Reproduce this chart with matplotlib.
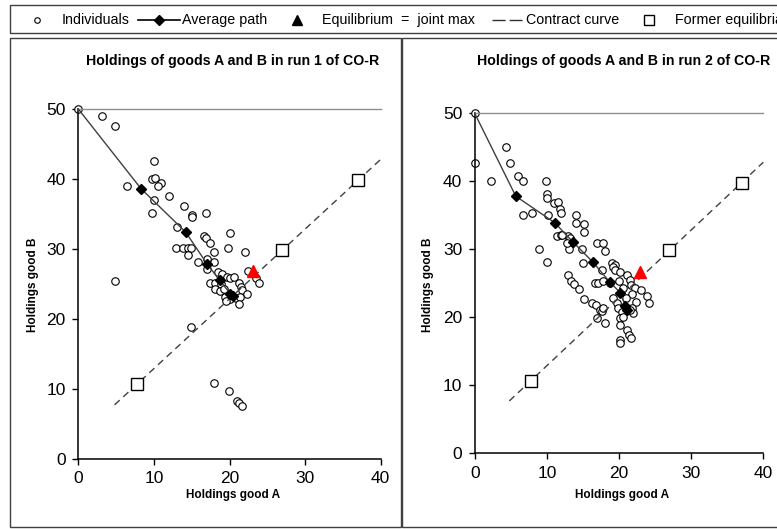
import matplotlib
matplotlib.use("Agg")
import matplotlib.pyplot as plt
from matplotlib.lines import Line2D
from matplotlib.patches import Rectangle

plt.rcParams['font.family'] = ['Liberation Sans', 'DejaVu Sans']

# ---------------- data ----------------
titles = ["Holdings of goods A and B in run 1 of CO-R",
          "Holdings of goods A and B in run 2 of CO-R"]
x_label = "Holdings good A"
y_label = "Holdings good B"
x_ticks = [0, 10, 20, 30, 40]
y_ticks = [0, 10, 20, 30, 40, 50]
legend_labels = ["Individuals", "Average path", "Equilibrium  =  joint max",
                 "Contract curve", "Former equilibria"]

run1_ind_a = [0, 3.2, 4.9, 10.0, 9.7, 10.1, 11.0, 10.5, 6.4, 10.0, 12.0, 9.7, 14.0, 15.0, 15.0,
              16.9, 13.0, 16.6, 16.9, 17.4, 20.0, 12.9, 13.9, 14.5, 14.9, 14.5, 18.0, 19.8, 22.0,
              15.8, 17.9, 17.0, 17.0, 4.9, 22.5, 18.5, 19.0, 19.7, 20.1, 20.6, 23.5, 23.9, 17.4,
              18.1, 18.9, 21.2, 21.5, 21.7, 22.3, 18.1, 18.7, 19.3, 19.4, 20.1, 20.8, 21.4, 21.3,
              19.6, 14.9, 18.0, 19.9, 21.0, 21.2, 21.7]
run1_ind_b = [50, 49.0, 47.5, 42.6, 40.0, 40.1, 39.4, 39.0, 39.0, 37.0, 37.6, 35.1, 36.1, 34.9, 34.5,
              35.1, 33.1, 31.9, 31.5, 30.9, 32.3, 30.1, 30.1, 30.1, 30.1, 29.1, 29.6, 30.1, 29.6,
              28.1, 28.1, 28.6, 27.1, 25.4, 26.8, 26.7, 26.4, 26.0, 25.8, 26.0, 25.9, 25.1, 25.1,
              25.1, 25.0, 25.1, 24.6, 24.1, 23.6, 24.2, 24.0, 24.2, 23.1, 22.9, 23.0, 23.1, 22.1,
              22.5, 18.8, 10.8, 9.7, 8.3, 7.9, 7.6]
run1_avg_a = [0, 8.3, 14.2, 17.0, 18.7, 20.1, 20.5]
run1_avg_b = [50, 38.6, 32.4, 27.9, 25.5, 23.6, 23.2]

run2_ind_a = [0, 0, 4.4, 4.9, 6.0, 6.7, 2.2, 6.7, 8.0, 9.9, 10.0, 10.0, 10.2, 11.0, 11.5, 11.8, 12.0,
              11.4, 11.9, 13.0, 13.2, 14.1, 14.1, 15.1, 15.1, 8.9, 10.0, 13.1, 14.9, 15.0, 16.9,
              17.8, 18.1, 17.6, 19.0, 19.5, 19.2, 19.5, 20.2, 21.1, 21.5, 21.7, 12.9, 13.3, 13.7,
              14.4, 15.1, 16.2, 16.8, 17.3, 17.6, 17.8, 16.9, 18.1, 16.7, 17.1, 17.8, 18.7, 19.2,
              19.7, 19.9, 20.4, 22.2, 21.8, 22.4, 21.8, 22.0, 21.5, 23.1, 23.9, 24.1, 20.2, 20.6,
              20.1, 21.1, 21.4, 21.6, 20.2, 20.1, 20.5, 21.0, 20.0, 12.8, 12.1]
run2_ind_b = [50, 42.7, 45.0, 42.7, 40.8, 40.0, 40.0, 35.0, 35.4, 40.1, 38.1, 37.6, 35.0, 36.8, 37.0,
              36.0, 35.3, 32.0, 32.1, 32.0, 31.7, 35.0, 33.9, 33.7, 32.6, 30.0, 28.1, 30.0, 30.0,
              28.0, 31.0, 31.0, 29.7, 27.0, 28.0, 27.7, 27.4, 26.9, 26.6, 26.2, 25.5, 24.8, 26.2,
              25.3, 24.9, 24.1, 22.7, 22.1, 21.8, 21.1, 20.9, 21.3, 19.9, 19.1, 25.0, 25.0, 25.3,
              25.1, 22.8, 22.1, 21.3, 20.8, 24.3, 23.5, 22.2, 21.4, 20.6, 21.1, 24.0, 23.1, 22.1,
              19.9, 20.0, 18.9, 18.2, 17.4, 16.9, 16.6, 16.2, 24.3, 22.8, 25.3, 31.0, 32.1]
run2_avg_a = [0, 5.7, 11.1, 13.6, 16.4, 18.7, 20.2, 20.9, 21.1]
run2_avg_b = [50, 37.8, 33.9, 31.1, 28.1, 25.2, 23.6, 21.6, 21.1]

equil_a = [23.1, 22.9]
equil_b = [26.8, 26.7]
former_a = [7.8, 26.9, 37.0]
former_b = [10.7, 29.9, 39.8]
contract_a = [4.8, 40.0]
contract_b = [7.7, 42.8]

runs = [
    (run1_ind_a, run1_ind_b, run1_avg_a, run1_avg_b, equil_a[0], equil_b[0]),
    (run2_ind_a, run2_ind_b, run2_avg_a, run2_avg_b, equil_a[1], equil_b[1]),
]

# ---------------- figure ----------------
W, H = 777, 529
fig = plt.figure(figsize=(W / 100, H / 100), dpi=100)

def fx(px):
    return px / W

def fy(py):
    return 1 - py / H

# panel frames
for (x0, x1) in [(10, 401), (402, 800)]:
    fig.patches.append(Rectangle((fx(x0), fy(527)), fx(x1 - x0), (527 - 38) / H,
                                 transform=fig.transFigure, fill=False,
                                 edgecolor='#404040', linewidth=1.0))
# legend box
fig.patches.append(Rectangle((fx(10), fy(33)), fx(800 - 10), 27.5 / H,
                             transform=fig.transFigure, fill=False,
                             edgecolor='#404040', linewidth=1.0))

axes_px = [(78.3, 380.7, 109, 458.7, 232.5, 233, 33),
           (474.7, 763.3, 113.3, 453.3, 624, 622, 428)]

for i, (ax_px, run) in enumerate(zip(axes_px, runs)):
    x0, x1, ytop, ybot, tcx, xlcx, ylx = ax_px
    ind_a, ind_b, avg_a, avg_b, ea, eb = run
    ax = fig.add_axes([fx(x0), fy(ybot), fx(x1 - x0), (ybot - ytop) / H])
    ax.set_xlim(0, 40)
    ax.set_ylim(0, 50)
    ax.set_xticks(x_ticks)
    ax.set_yticks(y_ticks)
    ax.tick_params(direction='out', length=4, width=1, labelsize=12.5, pad=5, colors='black')
    for s in ['left', 'bottom']:
        ax.spines[s].set_linewidth(1.1)
        ax.spines[s].set_color('black')
    ax.spines['right'].set_visible(False)
    ax.spines['top'].set_color('#909090')
    ax.spines['top'].set_linewidth(1.0)
    for sp in ax.spines.values():
        sp.set_clip_on(False)

    ax.plot(ind_a, ind_b, linestyle='none', marker='o', markersize=5.4,
            markerfacecolor='white', markeredgecolor='black', markeredgewidth=0.8,
            clip_on=False, zorder=2)
    ax.plot(contract_a, contract_b, linestyle=(0, (5, 3.5)), color='#404040',
            linewidth=1.0, zorder=3, clip_on=False)
    ax.plot(avg_a, avg_b, color='#404040', linewidth=1.0, zorder=4, clip_on=False)
    ax.plot(avg_a[1:], avg_b[1:], linestyle='none', marker='D', markersize=5,
            color='black', zorder=5)
    ax.plot(former_a, former_b, linestyle='none', marker='s', markersize=8.5,
            markerfacecolor='white', markeredgecolor='black', markeredgewidth=1.0, zorder=6)
    ax.plot([ea], [eb], linestyle='none', marker='^', markersize=9, color='#ff0000', zorder=7)

    fig.text(fx(tcx), fy(61), titles[i], ha='center', va='center',
             fontsize=10.2, fontweight='bold')
    fig.text(fx(xlcx), fy(495), x_label, ha='center', va='center',
             fontsize=8.5, fontweight='bold')
    fig.text(fx(ylx), fy(285), y_label, ha='center', va='center', rotation=90,
             fontsize=8.5, fontweight='bold')

# ---------------- legend (manual, matching the strip) ----------------
ly = fy(20)
fs = 10.3
fig.add_artist(Line2D([fx(37)], [ly], marker='o', markersize=4, markerfacecolor='white',
                      markeredgecolor='black', markeredgewidth=0.8, linestyle='none',
                      transform=fig.transFigure))
fig.text(fx(62), ly, legend_labels[0], ha='left', va='center', fontsize=fs)
fig.add_artist(Line2D([fx(138), fx(180)], [ly, ly], color='black', linewidth=1.2,
                      transform=fig.transFigure))
fig.add_artist(Line2D([fx(159)], [ly], marker='D', markersize=5.5, color='black',
                      linestyle='none', transform=fig.transFigure))
fig.text(fx(182), ly, legend_labels[1], ha='left', va='center', fontsize=fs)
fig.add_artist(Line2D([fx(297)], [ly], marker='^', markersize=7.5, color='black',
                      linestyle='none', transform=fig.transFigure))
fig.text(fx(322), ly, legend_labels[2], ha='left', va='center', fontsize=fs)
fig.add_artist(Line2D([fx(492), fx(522)], [ly, ly], color='#303030', linewidth=1.0,
                      linestyle=(0, (9.4, 2.9)), solid_capstyle='butt',
                      dash_capstyle='butt', transform=fig.transFigure))
fig.text(fx(526), ly, legend_labels[3], ha='left', va='center', fontsize=fs)
fig.add_artist(Line2D([fx(649)], [ly], marker='s', markersize=6.5, markerfacecolor='white',
                      markeredgecolor='black', markeredgewidth=1.0, linestyle='none',
                      transform=fig.transFigure))
fig.text(fx(675), ly, legend_labels[4], ha='left', va='center', fontsize=fs)

fig.savefig("out.png", dpi=100)
